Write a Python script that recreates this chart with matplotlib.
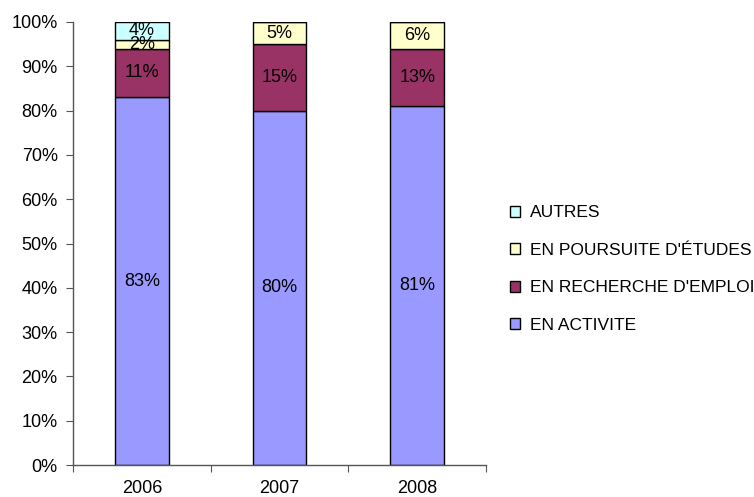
import matplotlib

matplotlib.use("Agg")
import matplotlib.pyplot as plt
from matplotlib.patches import Patch
import numpy as np

YEARS = ["2006", "2007", "2008"]
EN_ACTIVITE = [83, 80, 81]
EN_RECHERCHE = [11, 15, 13]
EN_POURSUITE = [2, 5, 6]
AUTRES = [4, 0, 0]

SERIES = [
    ("EN ACTIVITE", EN_ACTIVITE, "#9999FF"),
    ("EN RECHERCHE D'EMPLOI", EN_RECHERCHE, "#993366"),
    ("EN POURSUITE D'ÉTUDES", EN_POURSUITE, "#FFFFCC"),
    ("AUTRES", AUTRES, "#CCFFFF"),
]

plt.rcParams["font.family"] = ["Liberation Sans", "DejaVu Sans"]
FS = 13

fig = plt.figure(figsize=(7.54, 4.97), dpi=100)
ax = fig.add_axes([73 / 754, 32 / 497, 413 / 754, 443 / 497])

x = np.arange(len(YEARS)) + 0.5
bottom = np.zeros(len(YEARS))
handles = []
for name, values, color in SERIES:
    vals = np.array(values, dtype=float)
    ax.bar(x, vals, width=0.39, bottom=bottom, color=color, edgecolor="black", linewidth=1.0)
    for xi, b, v in zip(x, bottom, vals):
        if v > 0:
            ax.text(xi, b + v / 2, f"{int(v)}%", ha="center", va="center", fontsize=FS)
    bottom += vals
    handles.append(Patch(facecolor=color, edgecolor="black", linewidth=1.0, label=name))

ax.set_xlim(0, 3)
ax.set_ylim(0, 100)
ax.set_yticks(np.arange(0, 101, 10))
ax.set_yticklabels([f"{v}%" for v in range(0, 101, 10)], fontsize=FS)
ax.set_xticks([0, 1, 2, 3])
ax.set_xticklabels([])
ax.set_xticks(x, minor=True)
ax.set_xticklabels(YEARS, minor=True, fontsize=FS)
ax.tick_params(axis="x", which="minor", length=0, pad=11)
ax.tick_params(axis="x", which="major", length=5, color="#555555")
ax.tick_params(axis="y", length=5, color="#555555", pad=6)

for side in ("top", "right"):
    ax.spines[side].set_visible(False)
for side in ("left", "bottom"):
    ax.spines[side].set_color("#555555")
    ax.spines[side].set_linewidth(1.0)

fig.legend(
    handles=handles[::-1],
    loc="center left",
    bbox_to_anchor=(494 / 754, 1 - 269 / 497),
    frameon=False,
    fontsize=12.5,
    handlelength=0.6,
    handleheight=0.6,
    handletextpad=0.6,
    labelspacing=1.3,
)

fig.savefig("out.png", dpi=100, facecolor="white")
